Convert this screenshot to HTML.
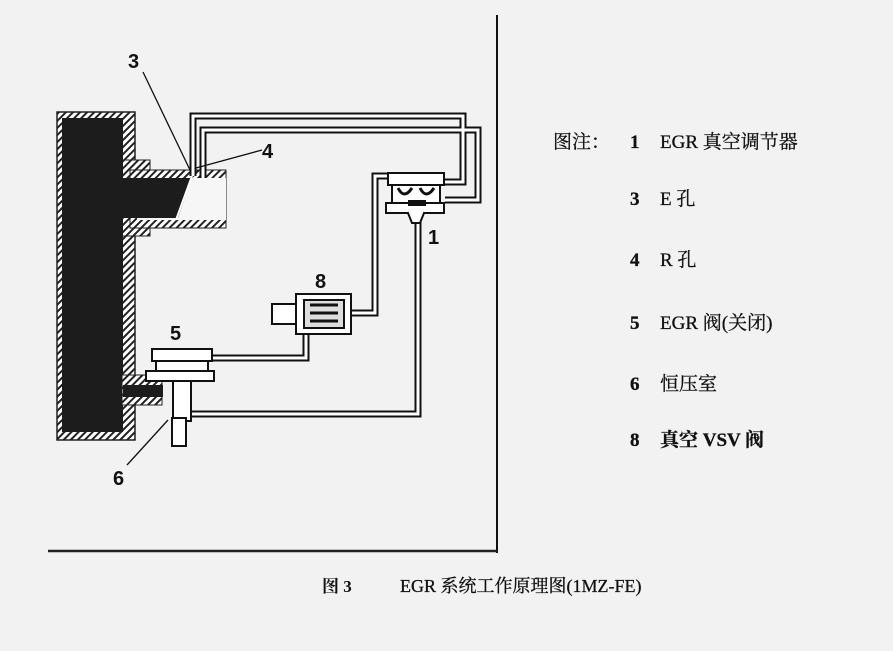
<!DOCTYPE html>
<html><head><meta charset="utf-8"><style>
body{margin:0;background:#f3f3f3;}
svg{display:block}
text{font-family:"Liberation Serif","Noto Serif CJK SC",serif;fill:#111}
</style></head><body>
<svg width="893" height="651" viewBox="0 0 893 651" xmlns="http://www.w3.org/2000/svg">
<defs>
<pattern id="h" width="5" height="5" patternUnits="userSpaceOnUse" patternTransform="rotate(45)">
<rect width="5" height="5" fill="#fff"/><rect width="2" height="5" fill="#222"/></pattern>
</defs>
<rect width="893" height="651" fill="#f2f2f2"/>
<!-- frame lines -->
<line x1="497" y1="15" x2="497" y2="553" stroke="#111" stroke-width="2"/>
<line x1="48" y1="551" x2="497" y2="551" stroke="#222" stroke-width="2.5"/>
<!-- engine hatched body -->
<rect x="57" y="112" width="78" height="328" fill="url(#h)" stroke="#222" stroke-width="1.5"/>
<rect x="122" y="160" width="28" height="76" fill="url(#h)" stroke="#222"/>
<rect x="130" y="170" width="96" height="58" fill="url(#h)" stroke="#222"/>
<rect x="137" y="178" width="89" height="42" fill="#f6f6f6"/>
<polygon points="62,118 123,118 123,178 192,178 178,218 123,218 123,432 62,432" fill="#1c1c1c"/>
<line x1="192" y1="176" x2="176" y2="220" stroke="#fff" stroke-width="2"/>
<rect x="122" y="375" width="40" height="30" fill="url(#h)" stroke="#222"/>
<rect x="123" y="385" width="40" height="12" fill="#1c1c1c"/>
<!-- pipes (double lines) -->
<g fill="none" stroke="#111" stroke-width="7">
<path d="M193,176 V116 H463 V182 H440"/>
<path d="M203,178 V130 H478 V200 H445"/>
<path d="M352,313 H375 V176 H392"/>
<path d="M306,332 V358 H210"/>
<path d="M418,222 V414 H190"/>
</g>
<g fill="none" stroke="#fff" stroke-width="3">
<path d="M193,176 V116 H463 V182 H440"/>
<path d="M203,178 V130 H478 V200 H445"/>
<path d="M352,313 H375 V176 H392"/>
<path d="M306,332 V358 H210"/>
<path d="M418,222 V414 H190"/>
</g>
<!-- regulator 1 -->
<g stroke="#111" stroke-width="2" fill="#fff">
<rect x="388" y="173" width="56" height="12"/>
<path d="M392,185 h48 v18 h-48z"/>
<path d="M386,203 h58 v10 h-20 l-4,10 h-8 l-4,-10 h-22z"/>
</g>
<path d="M398,188 q6,12 14,0 M420,188 q6,12 14,0" stroke="#111" stroke-width="3" fill="none"/>
<rect x="408" y="200" width="18" height="6" fill="#111"/>
<!-- VSV 8 -->
<g stroke="#111" stroke-width="2" fill="#fff">
<rect x="296" y="294" width="55" height="40"/>
<rect x="272" y="304" width="24" height="20"/>
<rect x="304" y="300" width="40" height="28" fill="#ddd"/>
</g>
<path d="M310,305 h28 M310,313 h28 M310,321 h28" stroke="#111" stroke-width="3"/>
<!-- valve 5 -->
<g stroke="#111" stroke-width="2" fill="#fff">
<rect x="152" y="349" width="60" height="12"/>
<rect x="156" y="361" width="52" height="10"/>
<rect x="146" y="371" width="68" height="10"/>
<rect x="173" y="381" width="18" height="40"/>
<rect x="172" y="418" width="14" height="28"/>
</g>
<!-- leader lines -->
<g stroke="#111" stroke-width="1.3">
<line x1="143" y1="72" x2="190" y2="170"/>
<line x1="262" y1="150" x2="196" y2="168"/>
<line x1="127" y1="465" x2="168" y2="420"/>
</g>
<g font-weight="bold" font-size="20">
<text x="128" y="68" style="font-family:'Liberation Sans',sans-serif">3</text>
<text x="262" y="158" style="font-family:'Liberation Sans',sans-serif">4</text>
<text x="428" y="244" style="font-family:'Liberation Sans',sans-serif">1</text>
<text x="315" y="288" style="font-family:'Liberation Sans',sans-serif">8</text>
<text x="170" y="340" style="font-family:'Liberation Sans',sans-serif">5</text>
<text x="113" y="485" style="font-family:'Liberation Sans',sans-serif">6</text>
</g>
<!-- legend -->
<g font-size="19" stroke="#111" stroke-width="0.3">
<text x="553" y="148">图注：</text>
<text x="630" y="148" font-weight="bold">1</text><text x="660" y="148">EGR 真空调节器</text>
<text x="630" y="205" font-weight="bold">3</text><text x="660" y="205">E 孔</text>
<text x="630" y="266" font-weight="bold">4</text><text x="660" y="266">R 孔</text>
<text x="630" y="329" font-weight="bold">5</text><text x="660" y="329">EGR 阀(关闭)</text>
<text x="630" y="390" font-weight="bold">6</text><text x="660" y="390">恒压室</text>
<text x="630" y="446" font-weight="bold">8</text><text x="660" y="446" font-weight="bold">真空 VSV 阀</text>
</g>
<text x="322" y="592" font-size="17" font-weight="bold">图 3</text>
<text x="400" y="592" font-size="18" stroke="#111" stroke-width="0.3">EGR 系统工作原理图(1MZ-FE)</text>
</svg>
</body></html>
